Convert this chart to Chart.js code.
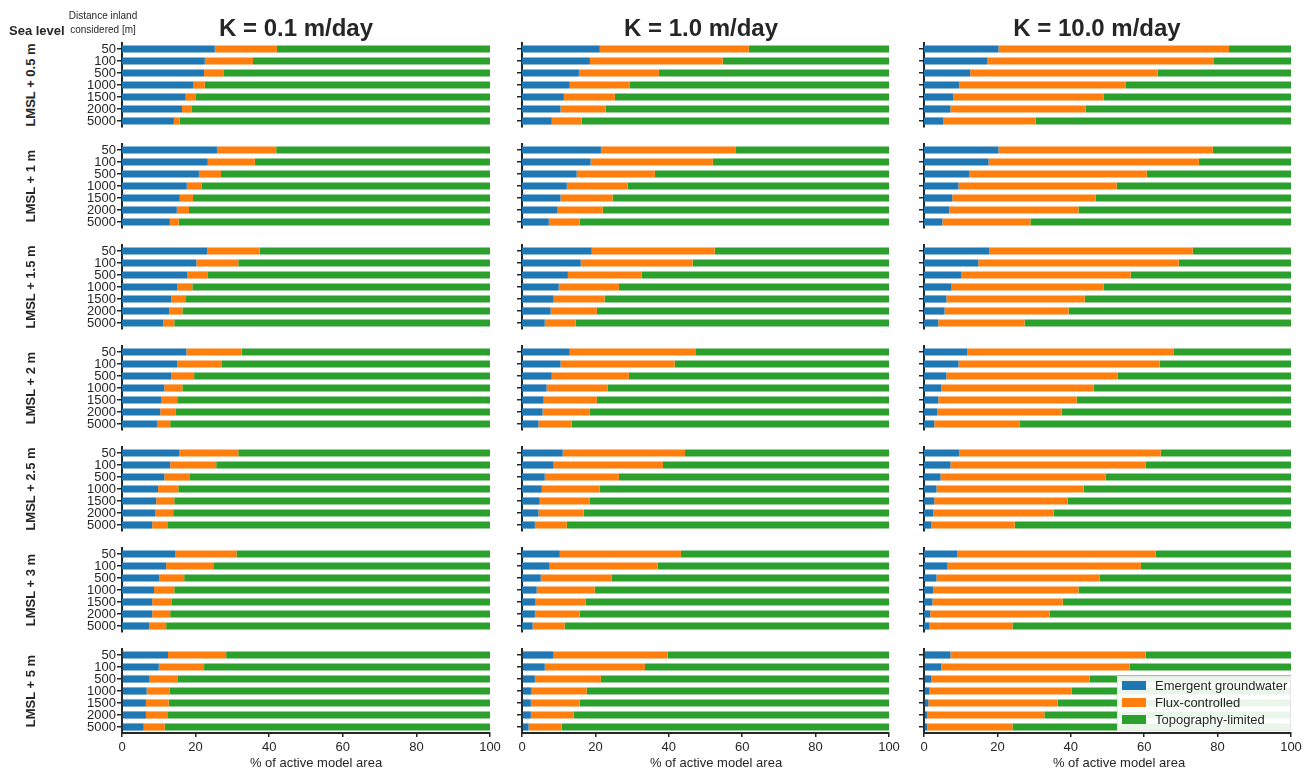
<!DOCTYPE html>
<html>
<head>
<meta charset="utf-8">
<script src="https://cdn.jsdelivr.net/npm/chart.js@4.4.1/dist/chart.umd.min.js"></script>
<style>
  body { margin: 0; background: #fff; }
  #fig { position: relative; width: 1314px; height: 771px; overflow: hidden; background: #fff;
         font-family: "Liberation Sans", Arial, sans-serif; color: #262626; }
  #fig canvas { position: absolute; }
  .txt { position: absolute; white-space: nowrap; line-height: 14px; }
  .bold { font-weight: bold; }
  .coltitle { position: absolute; white-space: nowrap; font-weight: bold; font-size: 24px; line-height: 28px; transform: translateX(-50%); }
  .xlabel { position: absolute; white-space: nowrap; font-size: 13px; line-height: 15px; transform: translateX(-50%); }
  .rowlabel { position: absolute; white-space: nowrap; font-weight: bold; font-size: 13px; line-height: 15px;
              transform: translate(-50%, -50%) rotate(-90deg); }
  #legend { position: absolute; left: 1117px; top: 676px; width: 174px; height: 55px; background: rgba(255,255,255,0.9);
            border: 1px solid #e6e6e6; box-sizing: border-box; font-size: 13px; }
  #legend .item { position: absolute; left: 4px; height: 15px; }
  #legend .sw { position: absolute; left: 0; top: 3px; width: 24px; height: 9px; }
  #legend .lbl { position: absolute; left: 33px; top: 0; white-space: nowrap; line-height: 15px; }
</style>
</head>
<body>
<div id="fig"></div>
<script>
// categories
const distances = ['50', '100', '500', '1000', '1500', '2000', '5000']
const seaLevels = ['LMSL + 0.5 m', 'LMSL + 1 m', 'LMSL + 1.5 m', 'LMSL + 2 m', 'LMSL + 2.5 m', 'LMSL + 3 m', 'LMSL + 5 m']
const kTitles = ['K = 0.1 m/day', 'K = 1.0 m/day', 'K = 10.0 m/day']
const seriesNames = ['Emergent groundwater', 'Flux-controlled', 'Topography-limited']
const xTicks = [0, 20, 40, 60, 80, 100]

// % of active model area, one row per sea level, one value per distance inland
const emergentK01 = [
  [25.2, 22.5, 22.3, 19.3, 17.3, 16.3, 14.1],
  [25.8, 23.3, 20.9, 17.6, 15.7, 14.9, 13.0],
  [23.2, 20.2, 17.7, 15.0, 13.4, 12.8, 11.2],
  [17.5, 15.0, 13.4, 11.5, 10.6, 10.4, 9.5],
  [15.5, 13.1, 11.5, 9.8, 9.3, 9.0, 8.2],
  [14.5, 12.0, 10.1, 8.7, 8.2, 8.2, 7.4],
  [12.5, 10.0, 7.5, 6.7, 6.5, 6.5, 5.9]
]
const fluxK01 = [
  [16.9, 13.1, 5.4, 3.2, 2.8, 2.7, 1.6],
  [16.1, 12.8, 6.0, 4.1, 3.6, 3.3, 2.4],
  [14.2, 11.4, 5.5, 4.1, 3.8, 3.6, 3.0],
  [15.0, 12.0, 6.2, 4.9, 4.4, 4.1, 3.6],
  [16.1, 12.5, 6.8, 5.5, 4.9, 4.9, 4.3],
  [16.6, 12.8, 6.8, 5.5, 5.2, 4.9, 4.6],
  [15.8, 12.3, 7.7, 6.3, 6.2, 6.0, 5.7]
]
const emergentK1 = [
  [21.2, 18.5, 15.5, 13.0, 11.4, 10.5, 8.1],
  [21.5, 18.7, 14.9, 12.2, 10.5, 9.7, 7.3],
  [19.0, 16.0, 12.5, 10.0, 8.6, 7.8, 6.2],
  [13.0, 10.5, 8.1, 6.7, 5.9, 5.6, 4.5],
  [11.1, 8.6, 6.2, 5.4, 4.8, 4.5, 3.5],
  [10.3, 7.5, 5.1, 4.0, 3.7, 3.5, 2.9],
  [8.6, 6.2, 3.5, 2.6, 2.4, 2.4, 1.8]
]
const fluxK1 = [
  [40.6, 36.2, 21.8, 16.4, 13.9, 12.3, 8.2],
  [36.8, 33.3, 21.3, 16.6, 14.2, 12.3, 8.4],
  [33.5, 30.5, 20.1, 16.4, 13.9, 12.6, 8.4],
  [34.4, 31.1, 21.0, 16.7, 14.5, 12.9, 9.0],
  [33.3, 29.8, 20.2, 15.8, 13.7, 12.3, 8.7],
  [33.0, 29.5, 19.4, 15.8, 13.7, 12.2, 8.7],
  [31.1, 27.3, 18.0, 15.0, 13.3, 11.7, 9.0]
]
const emergentK10 = [
  [20.3, 17.3, 12.6, 9.6, 8.0, 7.2, 5.3],
  [20.3, 17.6, 12.4, 9.4, 7.7, 6.9, 5.0],
  [17.8, 14.8, 10.2, 7.5, 6.1, 5.6, 3.9],
  [11.8, 9.4, 6.1, 4.7, 3.9, 3.6, 2.8],
  [9.6, 7.2, 4.5, 3.4, 2.8, 2.5, 2.0],
  [9.1, 6.4, 3.4, 2.5, 2.3, 1.7, 1.5],
  [7.2, 4.7, 2.0, 1.5, 1.2, 0.9, 0.9]
]
const fluxK10 = [
  [62.8, 61.7, 51.1, 45.4, 41.0, 36.8, 25.1],
  [58.4, 57.3, 48.3, 43.1, 39.1, 35.2, 24.0],
  [55.4, 54.6, 46.1, 41.5, 37.7, 33.8, 23.5],
  [56.3, 54.8, 46.7, 41.5, 37.7, 33.9, 23.2],
  [54.9, 53.2, 45.0, 40.1, 36.3, 32.8, 22.7],
  [54.0, 52.7, 44.5, 39.6, 35.5, 32.5, 22.6],
  [53.2, 51.3, 43.1, 38.7, 35.2, 31.9, 23.2]
]

const emergent = [emergentK01, emergentK1, emergentK10]
const flux = [fluxK01, fluxK1, fluxK10]
const colors = ['#1f77b4', '#ff7f0e', '#2ca02c']
const ink = '#262626'
const fontFamily = '"Liberation Sans", Arial, sans-serif'

// layout of the grid of panels (pixels)
const plotLeft = [122, 522, 924]
const plotWidth = [368, 367, 367]
const axisWidth = [50, 10, 10]
const rowTop0 = 43
const rowStep = 101
const plotHeight = 84
const titleCenter = [296, 701, 1097]
const xlabelCenter = [316, 716, 1119]

const fig = document.getElementById('fig')

function addText(cls, text, left, top, extra) {
  const el = document.createElement('div')
  el.className = cls
  el.textContent = text
  el.style.left = left + 'px'
  el.style.top = top + 'px'
  if (extra) Object.assign(el.style, extra)
  fig.appendChild(el)
  return el
}

function makePanel(col, row) {
  const isBottom = row === seaLevels.length - 1
  const padTop = 12
  const padRight = 16
  const padBottom = isBottom ? 0 : 12
  const xAxisH = isBottom ? 38 : 0

  const canvas = document.createElement('canvas')
  canvas.width = axisWidth[col] + plotWidth[col] + padRight
  canvas.height = padTop + plotHeight + padBottom + xAxisH
  canvas.style.left = (plotLeft[col] - axisWidth[col]) + 'px'
  canvas.style.top = (rowTop0 + row * rowStep - padTop) + 'px'
  fig.appendChild(canvas)

  const e = emergent[col][row]
  const f = flux[col][row]
  const t = e.map((v, i) => Math.round((100 - v - f[i]) * 10) / 10)

  new Chart(canvas.getContext('2d'), {
    type: 'bar',
    data: {
      labels: distances,
      datasets: [e, f, t].map((vals, i) => ({
        label: seriesNames[i],
        data: vals,
        backgroundColor: colors[i],
        borderWidth: 0,
        barPercentage: 0.6,
        categoryPercentage: 1.0
      }))
    },
    options: {
      indexAxis: 'y',
      responsive: false,
      animation: false,
      devicePixelRatio: 1,
      events: [],
      layout: { padding: { top: padTop, right: padRight, bottom: padBottom, left: 0 } },
      plugins: { legend: { display: false }, tooltip: { enabled: false } },
      scales: {
        x: {
          stacked: true,
          min: 0,
          max: 100,
          display: isBottom,
          afterBuildTicks: s => { s.ticks = xTicks.map(v => ({ value: v })) },
          ticks: { font: { size: 13, family: fontFamily }, color: ink, padding: 3, maxRotation: 0 },
          grid: { drawOnChartArea: false, tickLength: 4, color: ink, lineWidth: 1.5 },
          border: { color: ink, width: 2 },
          afterFit: s => { s.height = xAxisH }
        },
        y: {
          stacked: true,
          ticks: {
            display: col === 0,
            autoSkip: false,
            font: { size: 13, family: fontFamily },
            color: ink,
            padding: 1
          },
          grid: { offset: false, drawOnChartArea: false, tickLength: 5, color: ink, lineWidth: 1.5 },
          border: { color: ink, width: 2 },
          afterFit: s => { s.width = axisWidth[col] }
        }
      }
    }
  })
}

for (let col = 0; col < kTitles.length; col++) {
  for (let row = 0; row < seaLevels.length; row++) {
    makePanel(col, row)
  }
}

// titles and headers
kTitles.forEach((txt, col) => addText('coltitle', txt, titleCenter[col], 14))
xlabelCenter.forEach(x => addText('xlabel', '% of active model area', x, 755))
addText('txt bold', 'Sea level', 9, 24, { fontSize: '13px' })
addText('txt', 'Distance inland', 103, 9, { fontSize: '10px', transform: 'translateX(-50%)' })
addText('txt', 'considered [m]', 103, 23, { fontSize: '10px', transform: 'translateX(-50%)' })
seaLevels.forEach((txt, row) => addText('rowlabel', txt, 30, rowTop0 + row * rowStep + plotHeight / 2))

// legend
const legend = document.createElement('div')
legend.id = 'legend'
seriesNames.forEach((name, i) => {
  const item = document.createElement('div')
  item.className = 'item'
  item.style.top = (1 + i * 17) + 'px'
  const sw = document.createElement('div')
  sw.className = 'sw'
  sw.style.background = colors[i]
  const lbl = document.createElement('div')
  lbl.className = 'lbl'
  lbl.textContent = name
  item.appendChild(sw)
  item.appendChild(lbl)
  legend.appendChild(item)
})
fig.appendChild(legend)
</script>
</body>
</html>
